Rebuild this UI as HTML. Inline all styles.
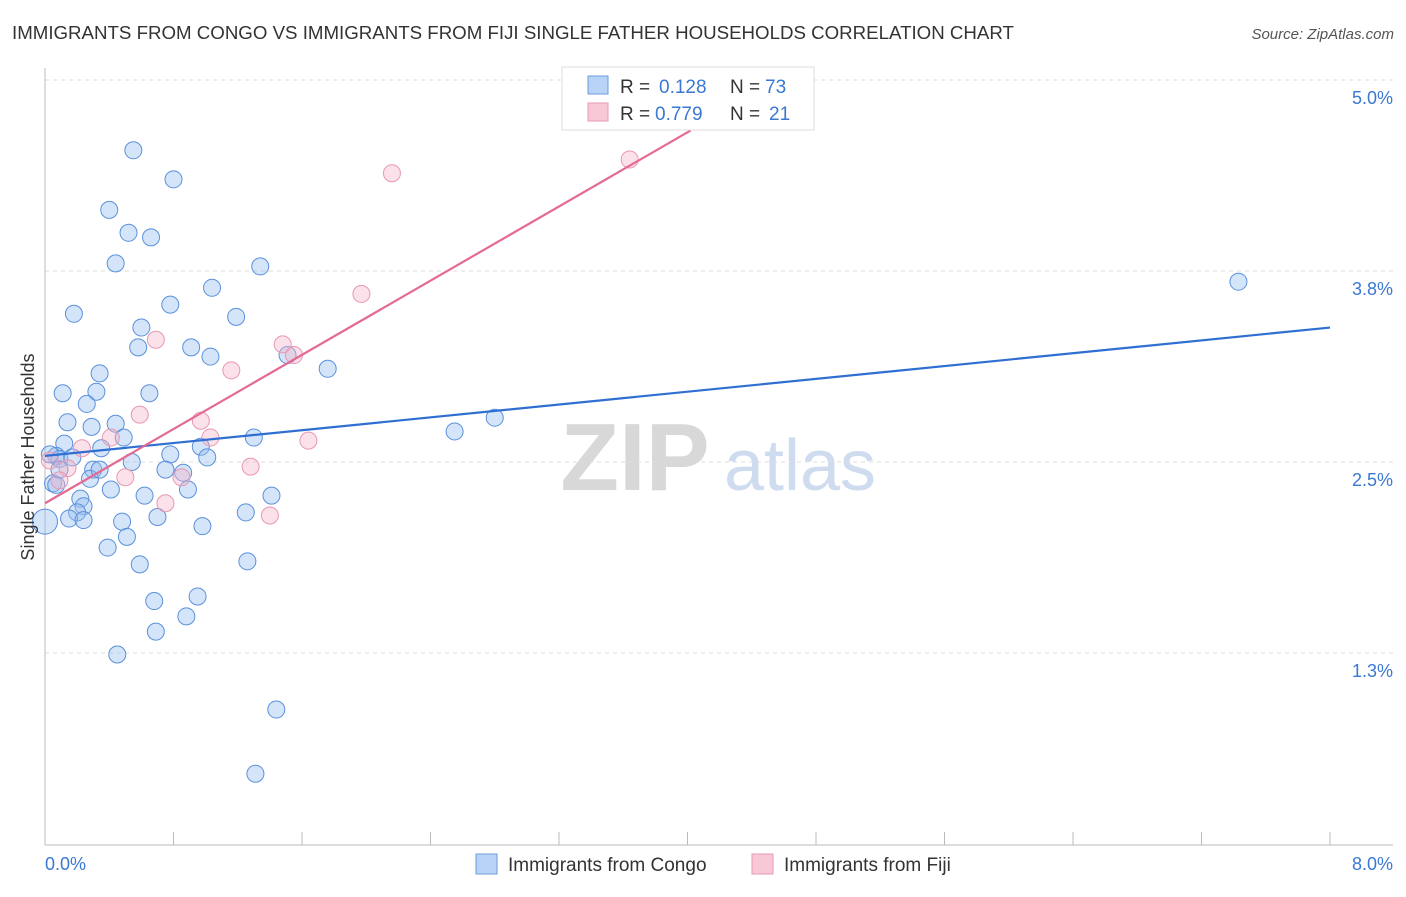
<!DOCTYPE html>
<html><head><meta charset="utf-8"><style>
body{margin:0;background:#fff;font-family:"Liberation Sans",sans-serif;}
svg text{font-family:"Liberation Sans",sans-serif;}
</style></head><body>
<svg id="chart" width="1406" height="892" xmlns="http://www.w3.org/2000/svg">
<text x="12" y="39" font-size="18.7" fill="#333">IMMIGRANTS FROM CONGO VS IMMIGRANTS FROM FIJI SINGLE FATHER HOUSEHOLDS CORRELATION CHART</text>
<text x="1394" y="39" font-size="15" fill="#555" text-anchor="end" font-style="italic">Source: ZipAtlas.com</text>
<g>
<text x="635" y="490" font-size="96" fill="#d8d8d8" text-anchor="middle" font-family="Liberation Serif" font-weight="bold">ZIP</text>
<text x="800" y="490" font-size="72" fill="#cfdcef" text-anchor="middle">atlas</text>
</g>
<g id="grid"></g>
<g id="axes"></g>
<g id="marks"></g>
<text transform="translate(34,457) rotate(-90)" font-size="18" fill="#333" text-anchor="middle">Single Father Households</text>
<g>
<rect x="562" y="67" width="252" height="63" fill="#fff" stroke="#ddd"/>
<rect x="588" y="76" width="20" height="18" fill="#b8d3f5" stroke="#6b9de0"/>
<rect x="588" y="103" width="20" height="18" fill="#f8c8d6" stroke="#e89ab2"/>
<text x="620" y="93" font-size="19" fill="#333">R =</text>
<text x="659" y="93" font-size="19" fill="#3a78d4">0.128</text>
<text x="730" y="93" font-size="19" fill="#333">N =</text>
<text x="765" y="93" font-size="19" fill="#3a78d4">73</text>
<text x="620" y="120" font-size="19" fill="#333">R =</text>
<text x="655" y="120" font-size="19" fill="#3a78d4">0.779</text>
<text x="730" y="120" font-size="19" fill="#333">N =</text>
<text x="769" y="120" font-size="19" fill="#3a78d4">21</text>
</g>
<g>
<rect x="476" y="854" width="21" height="20" fill="#b8d3f5" stroke="#6b9de0"/>
<text x="508" y="871" font-size="19" fill="#333">Immigrants from Congo</text>
<rect x="752" y="854" width="21" height="20" fill="#f8c8d6" stroke="#e89ab2"/>
<text x="784" y="871" font-size="19" fill="#333">Immigrants from Fiji</text>
</g>
</svg>
<script>
const yTicks=[5.0,3.75,2.5,1.25];
const yTickLabels=["5.0%","3.8%","2.5%","1.3%"];
const xTickLabels=["0.0%","8.0%"];
const congoX=[0.55,0.80,0.40,0.52,0.66,0.44,1.34,1.04,0.78,0.18,1.19,0.60,0.58,0.91,1.03,1.51,1.76,0.34,0.11,0.32,0.65,0.26,0.14,0.44,0.29,0.49,1.30,0.12,0.35,0.97,0.78,1.01,0.07,0.09,0.17,0.54,0.75,0.30,0.86,0.28,0.05,0.07,0.41,0.89,0.62,0.22,1.41,0.24,0.20,0.15,0.24,0.70,1.25,0.48,0.98,0.00,0.51,0.39,1.26,0.59,0.68,0.95,0.88,0.69,0.45,1.44,1.31,2.55,2.80,7.43,0.03,0.34,0.09];
const congoY=[4.54,4.35,4.15,4.00,3.97,3.80,3.78,3.64,3.53,3.47,3.45,3.38,3.25,3.25,3.19,3.20,3.11,3.08,2.95,2.96,2.95,2.88,2.76,2.75,2.73,2.66,2.66,2.62,2.59,2.60,2.55,2.53,2.54,2.52,2.53,2.50,2.45,2.45,2.43,2.39,2.36,2.35,2.32,2.32,2.28,2.26,2.28,2.21,2.17,2.13,2.12,2.14,2.17,2.11,2.08,2.11,2.01,1.94,1.85,1.83,1.59,1.62,1.49,1.39,1.24,0.88,0.46,2.70,2.79,3.68,2.55,2.45,2.45];
const fijiX=[2.16,3.64,1.97,0.69,1.48,1.55,1.16,0.59,0.97,0.41,1.03,0.23,1.64,0.14,1.28,0.50,0.85,0.09,0.75,1.40,0.03];
const fijiY=[4.39,4.48,3.60,3.30,3.27,3.20,3.10,2.81,2.77,2.66,2.66,2.59,2.64,2.46,2.47,2.40,2.40,2.38,2.23,2.15,2.51];
const congoLine=[[0,2.54],[8,3.38]];
const fijiLine=[[0,2.23],[4.02,4.67]];
const NS="http://www.w3.org/2000/svg";
const X=v=>45+v/8*1285, Y=v=>844-v*152.8;
function mk(t,a,p){const e=document.createElementNS(NS,t);for(const k in a)e.setAttribute(k,a[k]);p.appendChild(e);return e;}
const grid=document.getElementById('grid'),axes=document.getElementById('axes'),marks=document.getElementById('marks');
yTicks.forEach((v,i)=>{
 const l=mk('line',{x1:45,x2:1393,y1:Y(v),y2:Y(v),stroke:'#ddd','stroke-dasharray':'4,4'},grid);
 
 
 const t=mk('text',{x:1393,y:Y(v)+24,'font-size':18,fill:'#3a78d4','text-anchor':'end'},axes);
 t.textContent=yTickLabels[i];
 
 
});
mk('line',{x1:45,x2:45,y1:68,y2:845,stroke:'#bbb'},axes);
mk('line',{x1:45,x2:1393,y1:845,y2:845,stroke:'#bbb'},axes);
for(let i=0;i<=10;i++){const tk=mk('line',{x1:X(i*0.8),x2:X(i*0.8),y1:832,y2:845,stroke:'#bbb'},axes);
 
 }
[0,8].forEach((v,i)=>{const t=mk('text',{x:i?1393:45,y:870,'font-size':18,fill:'#3a78d4','text-anchor':i?'end':'start'},axes);
 t.textContent=xTickLabels[i];
 
 });
congoX.forEach((x,i)=>{const c=mk('circle',{cx:X(x),cy:Y(congoY[i]),r:(x===0?12.5:8.5),fill:'rgba(150,190,240,0.4)',stroke:'#5a90dc','stroke-width':1},marks);
 
 });
fijiX.forEach((x,i)=>{const c=mk('circle',{cx:X(x),cy:Y(fijiY[i]),r:8.5,fill:'rgba(245,180,200,0.4)',stroke:'#e898b2','stroke-width':1},marks);
 
 });
const bl=mk('line',{x1:X(congoLine[0][0]),y1:Y(congoLine[0][1]),x2:X(congoLine[1][0]),y2:Y(congoLine[1][1]),stroke:'#2f6fd2','stroke-width':2.2},marks);


const pl=mk('line',{x1:X(fijiLine[0][0]),y1:Y(fijiLine[0][1]),x2:X(fijiLine[1][0]),y2:Y(fijiLine[1][1]),stroke:'#e46a93','stroke-width':2.2},marks);


</script>
</body></html>
